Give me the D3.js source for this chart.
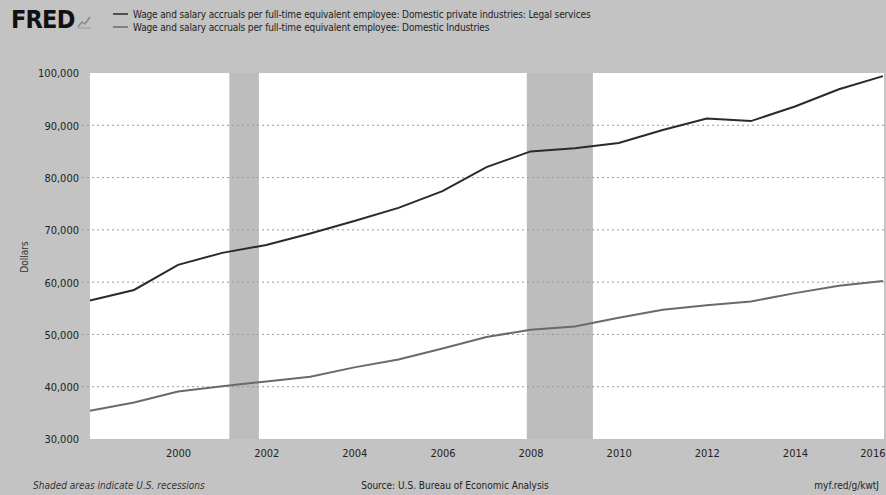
<!DOCTYPE html>
<html>
<head>
<meta charset="utf-8">
<script src="https://cdn.jsdelivr.net/npm/d3@7/dist/d3.min.js"></script>
<style>
  html, body { margin: 0; padding: 0; background: #c3c3c3; }
  svg { display: block; }
  text { font-family: "Liberation Sans Narrow", "DejaVu Sans Condensed", "Roboto", sans-serif; }
</style>
</head>
<body>
<script>
const years = [1998,1999,2000,2001,2002,2003,2004,2005,2006,2007,2008,2009,2010,2011,2012,2013,2014,2015,2016];
const legalServices = [56500,58500,63300,65600,67100,69300,71700,74200,77400,82000,85000,85600,86600,89100,91300,90800,93600,96900,99400];
const domesticIndustries = [35400,37000,39100,40100,41000,41900,43700,45200,47300,49500,50900,51500,53200,54700,55600,56300,57900,59300,60200];
const seriesNames = [
  "Wage and salary accruals per full-time equivalent employee: Domestic private industries: Legal services",
  "Wage and salary accruals per full-time equivalent employee: Domestic Industries"
];
const yTicks = [30000,40000,50000,60000,70000,80000,90000,100000];
const xTickYears = [2000,2002,2004,2006,2008,2010,2012,2014,2016];
const recessions = [["2001-03-01","2001-11-01"],["2007-12-01","2009-06-01"]];

const W = 886, H = 495;
const plot = {left: 90, right: 884, top: 73, bottom: 439};
const svg = d3.select("body").append("svg").attr("width", W).attr("height", H);
svg.append("rect").attr("width", W).attr("height", H).attr("fill", "#c3c3c3");

const parse = d3.timeParse("%Y-%m-%d");
const x = d3.scaleTime().domain([new Date(1998,0,1), new Date(2016,0,1)]).range([plot.left, 883]);
const y = d3.scaleLinear().domain([30000,100000]).range([plot.bottom, plot.top]);

// plot background
svg.append("rect").attr("x", plot.left).attr("y", plot.top)
  .attr("width", plot.right - plot.left).attr("height", plot.bottom - plot.top).attr("fill", "#ffffff");

// recessions
svg.append("g").selectAll("rect").data(recessions).join("rect")
  .attr("x", d => x(parse(d[0])))
  .attr("width", d => x(parse(d[1])) - x(parse(d[0])))
  .attr("y", plot.top).attr("height", plot.bottom - plot.top)
  .attr("fill", "#bdbdbd");

// gridlines
svg.append("g").selectAll("line").data(yTicks.filter(t => t > 30000 && t < 100000)).join("line")
  .attr("x1", plot.left - 8).attr("x2", plot.right)
  .attr("y1", d => y(d)).attr("y2", d => y(d))
  .attr("stroke", "#9a9a9a").attr("stroke-width", 1).attr("stroke-dasharray", "2,3");

// y axis
const yAxis = d3.axisLeft(y).tickValues(yTicks).tickSize(0).tickPadding(0)
  .tickFormat(d3.format(",d"));
const gy = svg.append("g").attr("transform", `translate(79,0)`).call(yAxis);
gy.select(".domain").remove();
gy.selectAll("text").attr("font-size", 11).attr("fill", "#222").attr("dy", "0.35em");

// x axis
const xAxis = d3.axisBottom(x).tickValues(xTickYears.map(yy => new Date(yy,0,1))).tickSize(0).tickPadding(0)
  .tickFormat(d3.timeFormat("%Y"));
const gx = svg.append("g").attr("transform", `translate(0,449)`).call(xAxis);
gx.select(".domain").remove();
gx.selectAll("text").attr("font-size", 11).attr("fill", "#222").attr("dy", "0.71em")
  .attr("text-anchor", (d, i) => i === xTickYears.length - 1 ? "end" : "middle")
  .attr("dx", (d, i) => i === xTickYears.length - 1 ? 2 : 0);

// y label
svg.append("text").attr("transform", "translate(28,257) rotate(-90)")
  .attr("text-anchor", "middle").attr("font-size", 10).attr("fill", "#333").text("Dollars");

// lines
const line = d3.line().x((d, i) => x(new Date(years[i],0,1))).y(d => y(d));
svg.append("path").datum(domesticIndustries).attr("d", line)
  .attr("fill", "none").attr("stroke", "#6a6a6a").attr("stroke-width", 2);
svg.append("path").datum(legalServices).attr("d", line)
  .attr("fill", "none").attr("stroke", "#2a2a2a").attr("stroke-width", 2);

// header: FRED logo
svg.append("text").attr("x", 11).attr("y", 28).attr("font-size", 25).attr("font-weight", 900)
  .attr("font-family", "'Liberation Sans', Arial, sans-serif").attr("fill", "#111")
  .attr("letter-spacing", -0.8).text("FRED");
const icon = svg.append("g").attr("transform", "translate(78,15)");
icon.append("path").attr("d", "M0,12 L4,7 L7,9 L12,2").attr("fill", "none").attr("stroke", "#888").attr("stroke-width", 1.5);
icon.append("path").attr("d", "M0,13 L13,13").attr("stroke", "#999").attr("stroke-width", 1);

// legend
const legendColors = ["#2a2a2a", "#6a6a6a"];
const lg = svg.append("g");
seriesNames.forEach((name, i) => {
  const yy = 14 + i * 13;
  lg.append("line").attr("x1", 113).attr("x2", 128).attr("y1", yy).attr("y2", yy)
    .attr("stroke", legendColors[i]).attr("stroke-width", 1.5);
  lg.append("text").attr("x", 133).attr("y", yy).attr("dy", "0.35em")
    .attr("font-size", 10).attr("letter-spacing", -0.13).attr("fill", "#222").text(name);
});

// footer
svg.append("text").attr("x", 33).attr("y", 489).attr("font-size", 10).attr("font-style", "italic")
  .attr("fill", "#333").text("Shaded areas indicate U.S. recessions");
svg.append("text").attr("x", 455).attr("y", 489).attr("font-size", 10).attr("text-anchor", "middle")
  .attr("fill", "#222").text("Source: U.S. Bureau of Economic Analysis");
svg.append("text").attr("x", 879).attr("y", 489).attr("font-size", 10).attr("text-anchor", "end")
  .attr("fill", "#222").text("myf.red/g/kwtJ");
</script>
</body>
</html>
